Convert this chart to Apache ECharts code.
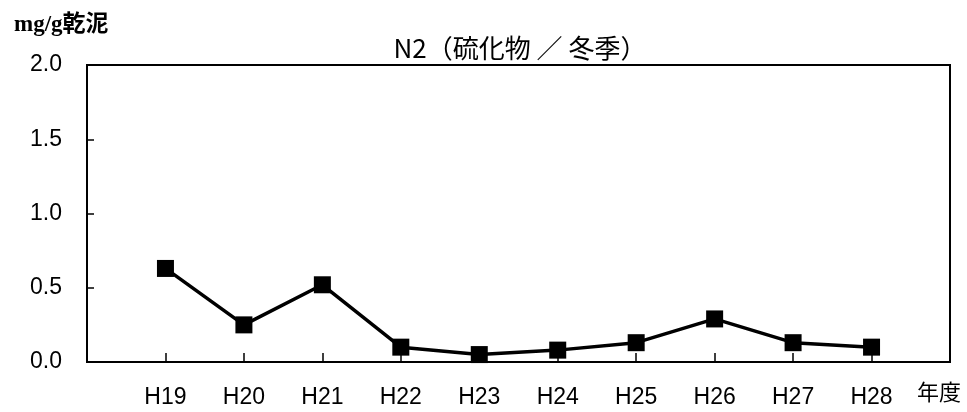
<!DOCTYPE html>
<html>
<head>
<meta charset="utf-8">
<script src="https://cdn.jsdelivr.net/npm/echarts@6/dist/echarts.min.js"></script>
<style>html,body{margin:0;padding:0;background:#fff;}#c{width:967px;height:412px;}</style>
</head>
<body>
<div id="c"></div>
<script>
const titleText = 'N2（硫化物 ／ 冬季）';
const unitText = 'mg/g乾泥';
const xUnit = '年度';
const categories = ['H19','H20','H21','H22','H23','H24','H25','H26','H27','H28'];
const values = [0.63, 0.25, 0.52, 0.10, 0.05, 0.08, 0.13, 0.29, 0.13, 0.10];
const yTicks = [0, 0.5, 1.0, 1.5, 2.0];

const axisData = [''].concat(categories, ['']);
const seriesData = [null].concat(values, [null]);
const labelFont = "'Liberation Sans', 'Noto Sans CJK JP', sans-serif";

const chart = echarts.init(document.getElementById('c'), null, {renderer: 'canvas'});
chart.setOption({
  backgroundColor: '#fff',
  animation: false,
  title: [
    { text: titleText, left: 515, textAlign: 'center', top: 30,
      textStyle: { fontFamily: "'Noto Sans CJK JP', sans-serif", fontSize: 26, fontWeight: 'normal', color: '#000' } },
    { text: unitText, left: 9, top: 9,
      textStyle: { fontFamily: "'Liberation Serif', 'Noto Sans CJK JP', serif", fontSize: 23, fontWeight: 'bold', color: '#000' } }
  ],
  grid: { left: 87, right: 17, top: 65, bottom: 50, show: true, borderColor: '#000', borderWidth: 2, backgroundColor: '#fff' },
  xAxis: {
    type: 'category', data: axisData, boundaryGap: false,
    axisLine: { lineStyle: { color: '#000', width: 2 } },
    axisTick: { inside: true, length: 9, lineStyle: { color: '#000', width: 1.5 } },
    axisLabel: { color: '#000', fontFamily: labelFont, fontSize: 23, margin: 24, interval: 0 },
    name: xUnit, nameLocation: 'end', nameGap: -33,
    nameTextStyle: { color: '#000', fontFamily: "'Noto Sans CJK JP', sans-serif", fontSize: 22, verticalAlign: 'top', padding: [19, 0, 0, 0] },
    splitLine: { show: false }
  },
  yAxis: {
    type: 'value', min: yTicks[0], max: yTicks[yTicks.length - 1], interval: yTicks[1] - yTicks[0],
    axisLine: { show: true, lineStyle: { color: '#000', width: 2 } },
    axisTick: { show: true, inside: true, length: 7, lineStyle: { color: '#000', width: 1.5 } },
    axisLabel: { color: '#000', fontFamily: labelFont, fontSize: 23, margin: 25, formatter: v => v.toFixed(1) },
    splitLine: { show: false }
  },
  series: [{
    type: 'line', data: seriesData, connectNulls: false,
    symbol: 'rect', symbolSize: 17,
    lineStyle: { color: '#000', width: 3.5 },
    itemStyle: { color: '#000' }
  }]
});
</script>
</body>
</html>
